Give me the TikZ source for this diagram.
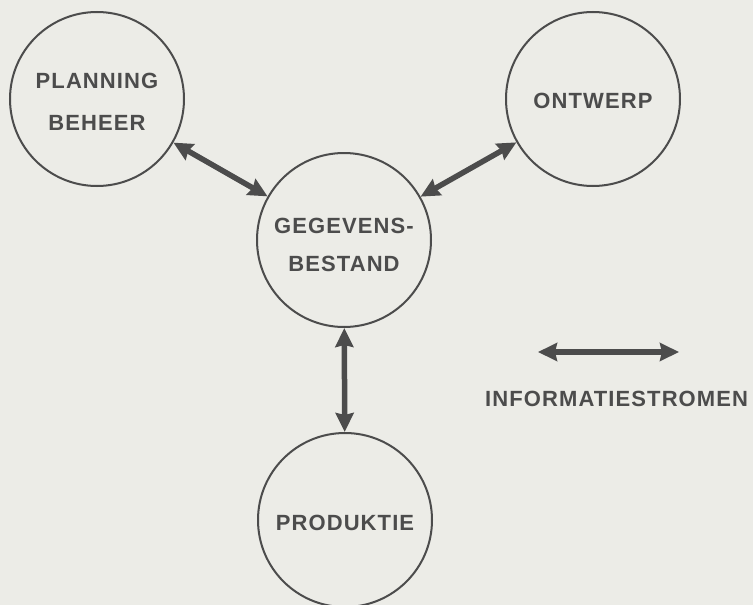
\documentclass[tikz,border=0pt]{standalone}
\usepackage{fontspec}
\setmainfont{Liberation Sans}
\newfontfamily\letterfont[LetterSpace=5]{Liberation Sans}
\usetikzlibrary{arrows.meta}
\definecolor{paper}{HTML}{ECECE7}
\definecolor{ink}{HTML}{4C4C4C}
\tikzset{
  bubble/.style={circle, draw=ink, line width=2pt, minimum size=174pt, inner sep=0pt},
  inscr/.style={text=ink, align=center, inner sep=0pt,
    font=\letterfont\bfseries\fontsize{22}{42}\selectfont},
  flow/.style={draw=ink, line width=5.5pt,
    {Stealth[length=19pt,width=18pt,inset=2pt]}-{Stealth[length=19pt,width=18pt,inset=2pt]}},
  caption/.style={text=ink, inner sep=0pt, font=\letterfont\bfseries\fontsize{22}{26}\selectfont}
}
\begin{document}
\begin{tikzpicture}[x=1pt,y=-1pt]
  % paper
  \fill[paper] (0,0) rectangle (753,605);
  \useasboundingbox (0,0) rectangle (753,605);
  \begin{scope}
    \clip (0,0) rectangle (753,605);
    % circles with their inscriptions
    \node[bubble, label={[inscr, yshift=-3pt]center:PLANNING\\BEHEER}] (plan) at (97,99) {};
    \node[bubble, label={[inscr, yshift=-2pt]center:ONTWERP}] (ontw) at (593,99) {};
    \node[bubble, label={[inscr, yshift=-5pt]center:GEGEVENS-\\[-4pt]BESTAND}] (gegev) at (344,240) {};
    \node[bubble, label={[inscr, yshift=-3pt]center:PRODUKTIE}] (prod) at (345,520) {};
    % information flows
    \draw[flow] (plan) -- (gegev);
    \draw[flow] (ontw) -- (gegev);
    \draw[flow] (gegev) -- (prod);
    % legend
    \coordinate (legA) at (538,352);
    \coordinate (legB) at (679,352);
    \draw[flow] (legA) -- (legB);
    \node[caption, anchor=base west] (legtext) at (485,406) {INFORMATIESTROMEN};
  \end{scope}
\end{tikzpicture}
\end{document}
